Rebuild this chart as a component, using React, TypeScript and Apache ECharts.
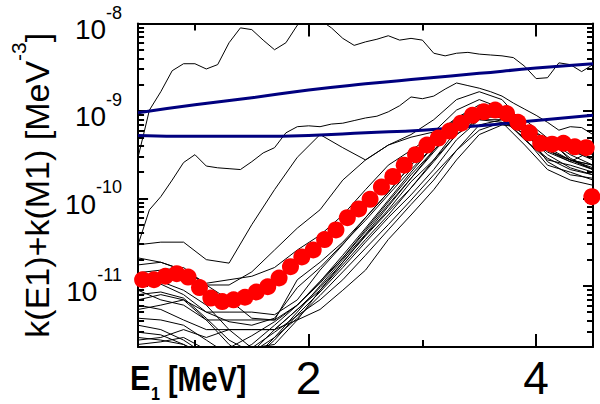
import React, { useEffect, useRef } from 'react';
import * as echarts from 'echarts';

// ---- x grids (MeV) ----
const X10 = [0.5,0.6,0.7,0.8,0.9,1.0,1.1,1.2,1.3,1.4,1.5,1.6,1.7,1.8,1.9,2.0,2.1,2.2,2.3,2.4,2.5,2.6,2.7,2.8,2.9,3.0,3.1,3.2,3.3,3.4,3.5,3.6,3.7,3.8,3.9,4.0,4.1,4.2,4.3,4.4,4.5];
const X20 = [0.5,0.7,0.9,1.1,1.3,1.5,1.7,1.9,2.1,2.3,2.5,2.7,2.9,3.1,3.3,3.5,3.7,3.9,4.1,4.3,4.5];
const X_NAVY = [0.5,1.0,1.5,2.0,2.5,3.0,3.5,4.0,4.5];
const RED_X = [0.54,0.64,0.74,0.84,0.94,1.04,1.14,1.24,1.34,1.44,1.54,1.64,1.74,1.84,1.94,2.04,2.14,2.24,2.34,2.44,2.54,2.64,2.74,2.84,2.94,3.04,3.14,3.24,3.34,3.44,3.54,3.64,3.74,3.84,3.94,4.04,4.14,4.24,4.34,4.44,4.49];

// ---- values as log10 of k(E1)+k(M1) [MeV^-3] ----
const RED = [-10.93,-10.93,-10.89,-10.86,-10.90,-11.02,-11.14,-11.18,-11.16,-11.13,-11.07,-11.01,-10.91,-10.78,-10.67,-10.59,-10.47,-10.36,-10.22,-10.12,-10.01,-9.87,-9.75,-9.62,-9.50,-9.39,-9.31,-9.23,-9.14,-9.05,-9.01,-8.99,-9.03,-9.13,-9.25,-9.37,-9.38,-9.37,-9.41,-9.42,-9.98];
const NAVY_UP = [-9.02,-8.93,-8.85,-8.76,-8.69,-8.63,-8.57,-8.51,-8.46];
const NAVY_LO = [-9.28,-9.29,-9.29,-9.28,-9.25,-9.22,-9.17,-9.11,-9.05];

const L1 = [-9.53,-8.99,-8.78,-8.54,-8.46,-8.46,-8.52,-8.47,-8.22,-8.05,-8.07,-8.19,-8.30,-8.22,-8.02,-7.94,-7.96,-8.05,-8.17,-8.25,-8.21,-8.18,-8.14,-8.19,-8.17,-8.19,-8.34,-8.37,-8.34,-8.33,-8.35,-8.36,-8.37,-8.39,-8.49,-8.63,-8.62,-8.45,-8.47,-8.55,-8.47];
const L2 = [-10.53,-10.13,-9.98,-9.79,-9.59,-9.50,-9.63,-9.65,-9.66,-9.67,-9.58,-9.48,-9.42,-9.25,-9.18,-9.17,-9.18,-9.15,-9.14,-9.11,-9.08,-9.06,-9.01,-8.94,-8.84,-8.86,-8.83,-8.75,-8.68,-8.71,-8.74,-8.78,-8.83,-8.91,-8.98,-9.05,-9.13,-9.22,-9.18,-9.19,-9.27];
const L3 = [-10.53,-10.50,-10.50,-10.70,-10.74,-10.30,-9.90,-9.53,-9.27,-9.42,-9.56,-9.39,-9.27,-9.10,-8.87,-8.78,-8.87,-9.16,-9.45,-9.56,-9.62];
const L4 = [-10.76,-10.73,-10.82,-10.99,-10.99,-10.84,-10.59,-10.34,-10.13,-9.79,-9.56,-9.39,-9.30,-9.24,-8.99,-8.87,-8.97,-9.16,-9.39,-9.45,-9.54];
const L5 = [-10.68,-10.73,-10.82,-10.97,-10.93,-10.89,-10.79,-10.59,-10.42,-10.19,-9.90,-9.62,-9.45,-9.27,-9.08,-8.93,-8.97,-9.10,-9.31,-9.56,-9.67];
const B1 = [-10.85,-10.82,-10.79,-10.99,-11.16,-11.37,-11.39,-10.93,-10.73,-10.50,-10.22,-9.93,-9.62,-9.37,-9.10,-8.97,-9.01,-9.19,-9.39,-9.45,-9.56];
const B2 = [-10.99,-10.95,-11.05,-11.22,-11.50,-11.71,-11.67,-11.39,-11.05,-10.73,-10.42,-10.13,-9.81,-9.56,-9.27,-9.08,-9.03,-9.24,-9.45,-9.56,-9.62];
const B3 = [-11.05,-11.16,-11.22,-11.39,-11.39,-11.39,-11.39,-11.22,-10.95,-10.68,-10.38,-10.07,-9.77,-9.45,-9.19,-9.05,-9.08,-9.27,-9.45,-9.42,-9.50];
const B4 = [-11.16,-11.10,-11.16,-11.30,-11.30,-11.30,-11.33,-11.16,-10.82,-10.53,-10.22,-9.93,-9.62,-9.33,-9.08,-8.99,-9.05,-9.16,-9.33,-9.54,-9.67];
const B5 = [-11.22,-11.27,-11.39,-11.50,-11.50,-11.50,-11.50,-11.27,-11.05,-10.76,-10.47,-10.19,-9.88,-9.56,-9.22,-9.08,-9.06,-9.33,-9.54,-9.67,-9.73];
const B6 = [-11.27,-11.22,-11.16,-11.39,-11.67,-11.85,-11.62,-11.33,-11.07,-10.79,-10.50,-10.22,-9.96,-9.67,-9.33,-9.10,-9.10,-9.31,-9.62,-9.70,-9.79];
const B7 = [-11.37,-11.39,-11.45,-11.62,-11.79,-11.67,-11.45,-11.22,-10.97,-10.68,-10.36,-10.04,-9.73,-9.45,-9.16,-9.01,-9.08,-9.33,-9.56,-9.62,-9.70];
const B8 = [-11.45,-11.50,-11.62,-11.79,-11.85,-11.76,-11.50,-11.27,-11.02,-10.73,-10.43,-10.15,-9.88,-9.58,-9.27,-9.10,-9.13,-9.39,-9.67,-9.79,-9.85];
const B9 = [-11.53,-11.56,-11.67,-11.82,-11.71,-11.57,-11.41,-11.22,-10.95,-10.65,-10.34,-10.02,-9.70,-9.40,-9.13,-8.99,-9.03,-9.24,-9.50,-9.65,-9.73];
const B10 = [-11.59,-11.62,-11.67,-11.79,-11.87,-11.71,-11.53,-11.34,-11.16,-10.93,-10.65,-10.36,-10.07,-9.79,-9.45,-9.16,-9.10,-9.27,-9.47,-9.58,-9.67];
const B11 = [-11.67,-11.64,-11.59,-11.73,-11.90,-11.85,-11.59,-11.37,-11.11,-10.84,-10.57,-10.30,-10.02,-9.73,-9.45,-9.22,-9.13,-9.22,-9.42,-9.56,-9.65];
const B12 = [-10.93,-10.98,-11.10,-11.30,-11.41,-11.45,-11.37,-11.02,-10.79,-10.52,-10.25,-9.96,-9.67,-9.40,-9.08,-8.97,-9.02,-9.19,-9.45,-9.58,-9.45];
const B13 = [-11.10,-11.07,-11.14,-11.37,-11.62,-11.76,-11.59,-11.30,-11.00,-10.70,-10.41,-10.09,-9.77,-9.47,-9.17,-9.03,-9.07,-9.22,-9.58,-9.73,-9.77];
const B14 = [-11.62,-11.59,-11.50,-11.59,-11.50,-11.50,-11.50,-11.39,-11.27,-11.05,-10.82,-10.47,-10.19,-9.90,-9.56,-9.27,-9.16,-9.19,-9.33,-9.50,-9.62];

// ---- ticks ----
const X_MAJOR = [2, 4];
const X_MINOR = [1, 3];
const Y_MAJOR = [1e-11, 1e-10, 1e-9, 1e-8];
const Y_MINOR = [3e-12,4e-12,5e-12,6e-12,7e-12,8e-12,9e-12,2e-11,3e-11,4e-11,5e-11,6e-11,7e-11,8e-11,9e-11,2e-10,3e-10,4e-10,5e-10,6e-10,7e-10,8e-10,9e-10,2e-9,3e-9,4e-9,5e-9,6e-9,7e-9,8e-9,9e-9];
const Y_MIN = 2e-12;
const Y_MAX = 1e-8;
const X_MIN = 0.5;
const X_MAX = 4.5;

const FONT = 'Liberation Sans, Arial, Helvetica, sans-serif';

const toData = (xs: number[], es: number[]) => xs.map((x, i) => [x, Math.pow(10, es[i])]);

export default function App() {
  const ref = useRef<HTMLDivElement>(null);
  useEffect(() => {
    if (!ref.current) return;
    const chart = echarts.init(ref.current, null, { renderer: 'svg' });
    const frame = { show: true, onZero: false, lineStyle: { color: '#000', width: 2 } };
    const noLine = { show: false, onZero: false };
    const tickStyle = { color: '#000', width: 2 };
    const xBase = { type: 'value', min: X_MIN, max: X_MAX, splitLine: { show: false } };
    const yBase = { type: 'log', logBase: 10, min: Y_MIN, max: Y_MAX, splitLine: { show: false } };

    const blackSets: [number[], number[]][] = [
      [X10, L1], [X10, L2], [X20, L3], [X20, L4], [X20, L5],
      [X20, B1], [X20, B2], [X20, B3], [X20, B4], [X20, B5], [X20, B6], [X20, B7],
      [X20, B8], [X20, B9], [X20, B10], [X20, B11], [X20, B12], [X20, B13], [X20, B14],
    ];
    const blackSeries = blackSets.map(([xs, es]) => ({
      type: 'line', xAxisIndex: 0, yAxisIndex: 0, data: toData(xs, es),
      showSymbol: false, symbol: 'none', silent: true, z: 2,
      lineStyle: { color: '#000', width: 1 },
    }));

    const boldText = (text: string, left: number, top: number, size: number, sx: number) => ({
      type: 'text', left, top, z: 10, scaleX: sx,
      style: { text, fontSize: size, lineHeight: size, fontWeight: 'bold', fontFamily: FONT, fill: '#000' },
    });

    chart.setOption({
      animation: false,
      backgroundColor: '#fff',
      grid: { left: 133, right: 7, top: 23.5, bottom: 57, containLabel: false },
      xAxis: [
        { ...xBase, position: 'bottom', axisLine: frame,
          axisTick: { inside: true, length: 13, lineStyle: tickStyle, customValues: X_MAJOR },
          axisLabel: { customValues: X_MAJOR, fontSize: 46, lineHeight: 46, color: '#000', margin: 8, fontFamily: FONT } },
        { ...xBase, position: 'bottom', axisLine: noLine,
          axisTick: { inside: true, length: 7, lineStyle: tickStyle, customValues: X_MINOR },
          axisLabel: { show: false } },
        { ...xBase, position: 'top', axisLine: frame,
          axisTick: { inside: true, length: 13, lineStyle: tickStyle, customValues: X_MAJOR },
          axisLabel: { show: false } },
        { ...xBase, position: 'top', axisLine: noLine,
          axisTick: { inside: true, length: 7, lineStyle: tickStyle, customValues: X_MINOR },
          axisLabel: { show: false } },
      ],
      yAxis: [
        { ...yBase, position: 'left', axisLine: frame,
          axisTick: { inside: true, length: 10, lineStyle: tickStyle, customValues: Y_MAJOR },
          axisLabel: {
            customValues: Y_MAJOR, margin: 16, color: '#000',
            formatter: (v: number) => `{b|10}{s|${Math.round(Math.log10(v))}}`,
            rich: {
              b: { fontSize: 28, lineHeight: 40, verticalAlign: 'bottom', fontFamily: FONT, color: '#000' },
              s: { fontSize: 18, lineHeight: 20, verticalAlign: 'top', fontFamily: FONT, color: '#000' },
            },
          },
          name: '{a|k(E1)+k(M1) [MeV}{s|-3}{a|]}',
          nameLocation: 'middle', nameRotate: 90, nameGap: 66,
          nameTextStyle: {
            rich: {
              a: { fontSize: 34, lineHeight: 46, verticalAlign: 'bottom', fontFamily: FONT, color: '#000' },
              s: { fontSize: 21, lineHeight: 24, verticalAlign: 'top', fontFamily: FONT, color: '#000' },
            },
          } },
        { ...yBase, position: 'left', axisLine: noLine,
          axisTick: { inside: true, length: 6, lineStyle: tickStyle, customValues: Y_MINOR },
          axisLabel: { show: false } },
        { ...yBase, position: 'right', axisLine: frame,
          axisTick: { inside: true, length: 10, lineStyle: tickStyle, customValues: Y_MAJOR },
          axisLabel: { show: false } },
        { ...yBase, position: 'right', axisLine: noLine,
          axisTick: { inside: true, length: 6, lineStyle: tickStyle, customValues: Y_MINOR },
          axisLabel: { show: false } },
      ],
      graphic: [
        boldText('E', 130, 360, 36, 0.85),
        boldText('1', 151, 384, 19, 0.85),
        boldText('[MeV]', 168, 360, 36, 0.8),
      ],
      series: [
        ...blackSeries,
        { type: 'line', xAxisIndex: 0, yAxisIndex: 0, data: toData(X_NAVY, NAVY_UP), smooth: true,
          showSymbol: false, symbol: 'none', silent: true, z: 3, lineStyle: { color: '#00007f', width: 3 } },
        { type: 'line', xAxisIndex: 0, yAxisIndex: 0, data: toData(X_NAVY, NAVY_LO), smooth: true,
          showSymbol: false, symbol: 'none', silent: true, z: 3, lineStyle: { color: '#00007f', width: 3 } },
        { type: 'scatter', xAxisIndex: 0, yAxisIndex: 0, data: toData(RED_X, RED), symbol: 'circle',
          symbolSize: 17, silent: true, z: 4, itemStyle: { color: '#ff0000', opacity: 1 } },
      ],
    } as any);
    return () => chart.dispose();
  }, []);
  return <div ref={ref} style={{ position: 'fixed', left: 0, top: 0, width: 600, height: 404, background: '#fff' }} />;
}
